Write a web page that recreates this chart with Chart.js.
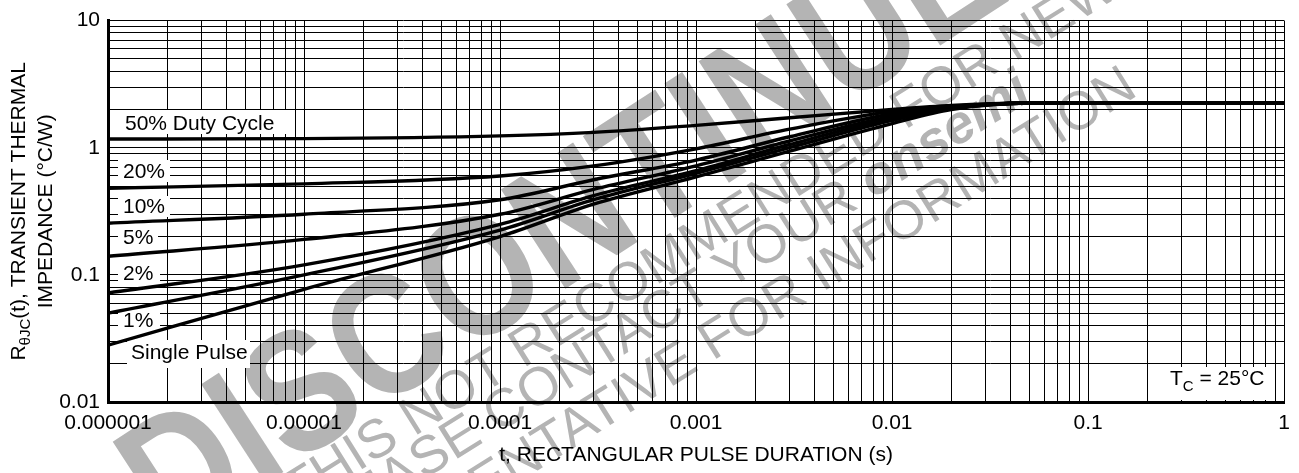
<!DOCTYPE html>
<html>
<head>
<meta charset="utf-8">
<script src="https://cdn.jsdelivr.net/npm/chart.js@4.4.0/dist/chart.umd.min.js"></script>
<style>
  html, body { margin: 0; padding: 0; background: #fff; }
  #wrap { width: 1299px; height: 473px; }
</style>
</head>
<body>
<div id="wrap"><canvas id="chart" width="1299" height="473"></canvas></div>
<script>
/* ---- data ---- */
const durations = [1e-6, 1e-5, 1e-4, 3e-4, 1e-3, 3e-3, 1e-2, 2e-2, 5e-2, 1e-1, 1];

const duty50 = [1.17, 1.18, 1.24, 1.32, 1.50, 1.72, 2.00, 2.15, 2.25, 2.26, 2.26];
const duty20 = [0.48, 0.52, 0.60, 0.72, 0.98, 1.40, 1.93, 2.12, 2.25, 2.26, 2.26];
const duty10 = [0.255, 0.30, 0.39, 0.56, 0.80, 1.22, 1.85, 2.10, 2.25, 2.26, 2.26];
const duty5  = [0.14, 0.19, 0.30, 0.47, 0.72, 1.13, 1.77, 2.08, 2.25, 2.26, 2.26];
const duty2  = [0.072, 0.12, 0.25, 0.42, 0.66, 1.06, 1.70, 2.06, 2.25, 2.26, 2.26];
const duty1  = [0.05, 0.10, 0.225, 0.39, 0.63, 1.00, 1.64, 2.04, 2.25, 2.26, 2.26];
const single = [0.028, 0.077, 0.20, 0.36, 0.59, 0.94, 1.55, 2.00, 2.25, 2.26, 2.26];

const seriesNames = ['50% Duty Cycle', '20%', '10%', '5%', '2%', '1%', 'Single Pulse'];
const seriesValues = [duty50, duty20, duty10, duty5, duty2, duty1, single];

const xTickValues = [1e-6, 1e-5, 1e-4, 1e-3, 1e-2, 1e-1, 1];
const xTickLabels = ['0.000001', '0.00001', '0.0001', '0.001', '0.01', '0.1', '1'];
const yTickValues = [0.01, 0.1, 1, 10];
const yTickLabels = ['0.01', '0.1', '1', '10'];

const xTitle = 't, RECTANGULAR PULSE DURATION (s)';
const yTitleMain = ['R', '\u03B8JC', '(t), TRANSIENT THERMAL'];
const yTitleSecond = 'IMPEDANCE (\u00B0C/W)';
const caseTemp = ['T', 'C', ' = 25\u00B0C'];

/* ---- look ---- */
const FONT = "'Liberation Sans', Arial, Helvetica, sans-serif";
const WM_GRAY = '#b4b4b4';

// where the curve names sit (pixel offsets from chart area left / absolute baseline)
const curveLabelSpots = [
  { dx: 17, base: 130, box: [12, 110, 170, 24] },
  { dx: 15, base: 178, box: [10, 160, 52, 22] },
  { dx: 15, base: 213, box: [10, 196, 52, 21] },
  { dx: 15, base: 244, box: [10, 229, 40, 20] },
  { dx: 15, base: 280, box: [10, 264, 42, 21] },
  { dx: 15, base: 327, box: [10, 309, 42, 21] },
  { dx: 23, base: 359, box: [19, 340, 123, 28] },
];

/* log grid: 1..9 per decade */
function logGrid(minExp, maxExp) {
  const out = [];
  for (let e = minExp; e < maxExp; e++) {
    for (let m = 1; m <= 9; m++) out.push(parseFloat((m * Math.pow(10, e)).toPrecision(10)));
  }
  out.push(Math.pow(10, maxExp));
  return out;
}

function labelFor(value, values, labels) {
  for (let i = 0; i < values.length; i++) {
    if (Math.abs(Math.log10(value) - Math.log10(values[i])) < 1e-6) return labels[i];
  }
  return '';
}

/* rotated text, positioned so that `anchorSub` starts at (ax, ay) */
function rotText(ctx, text, anchorSub, ax, ay, deg, font, sx) {
  ctx.save();
  ctx.font = font;
  const idx = text.indexOf(anchorSub);
  const pre = ctx.measureText(text.slice(0, idx)).width;
  ctx.translate(ax, ay);
  ctx.rotate(deg * Math.PI / 180);
  ctx.scale(sx || 1, 1);
  ctx.textAlign = 'left';
  ctx.textBaseline = 'alphabetic';
  ctx.fillText(text, -pre, 0);
  ctx.restore();
}

const decorPlugin = {
  id: 'decor',
  beforeDraw(chart) {
    const ctx = chart.ctx;
    ctx.save();
    ctx.fillStyle = '#fff';
    ctx.fillRect(0, 0, chart.width, chart.height);
    // watermark, behind the grid
    ctx.fillStyle = WM_GRAY;
    rotText(ctx, 'DISCONTINUED', 'ONTINUED', 462, 356, -33, 'bold 172px ' + FONT, 0.85);
    rotText(ctx, 'THIS NOT RECOMMENDED FOR NEW DESIGN', 'FOR', 905, 130, -32, '54px ' + FONT);
    // line with the bold company name
    ctx.save();
    ctx.translate(873, 199);
    ctx.rotate(-32 * Math.PI / 180);
    ctx.font = '54px ' + FONT;
    const pre = 'PLEASE CONTACT YOUR ';
    ctx.fillText(pre, -ctx.measureText(pre).width, 0);
    ctx.font = 'italic bold 54px ' + FONT;
    ctx.fillText('onsemi', 0, 0);
    ctx.restore();
    rotText(ctx, 'REPRESENTATIVE FOR INFORMATION', 'FORMATION', 868, 264, -32, '54px ' + FONT);
    ctx.restore();
  },
  beforeDatasetsDraw(chart) {
    const ctx = chart.ctx;
    const a = chart.chartArea;
    ctx.save();
    ctx.font = '21px ' + FONT;
    ctx.textBaseline = 'alphabetic';
    seriesNames.forEach((name, i) => {
      const s = curveLabelSpots[i];
      ctx.fillStyle = '#fff';
      ctx.fillRect(a.left + s.box[0], s.box[1], s.box[2], s.box[3]);
      ctx.fillStyle = '#000';
      ctx.fillText(name, a.left + s.dx, s.base);
    });
    // case temperature note
    ctx.fillStyle = '#fff';
    ctx.fillRect(1163, 367, 104, 33);
    ctx.fillStyle = '#000';
    let x = 1170;
    ctx.font = '21px ' + FONT;
    ctx.fillText(caseTemp[0], x, 385);
    x += ctx.measureText(caseTemp[0]).width;
    ctx.font = '15px ' + FONT;
    ctx.fillText(caseTemp[1], x, 391);
    x += ctx.measureText(caseTemp[1]).width;
    ctx.font = '21px ' + FONT;
    ctx.fillText(caseTemp[2], x, 385);
    ctx.restore();
  },
  afterDraw(chart) {
    const ctx = chart.ctx;
    const a = chart.chartArea;
    ctx.save();
    ctx.fillStyle = '#000';
    ctx.font = '21px ' + FONT;
    ctx.textAlign = 'center';
    ctx.textBaseline = 'alphabetic';
    ctx.fillText(xTitle, (a.left + a.right) / 2, 461);

    // y title, rotated
    const cy = (a.top + a.bottom) / 2;
    ctx.textAlign = 'left';
    const fonts = ['21px ' + FONT, '15px ' + FONT, '21px ' + FONT];
    const shifts = [0, 5, 0];
    let widths = yTitleMain.map((t, i) => { ctx.font = fonts[i]; return ctx.measureText(t).width; });
    let total = widths.reduce((p, c) => p + c, 0);
    ctx.save();
    ctx.translate(25, cy);
    ctx.rotate(-Math.PI / 2);
    let px = -total / 2;
    yTitleMain.forEach((t, i) => {
      ctx.font = fonts[i];
      ctx.fillText(t, px, shifts[i]);
      px += widths[i];
    });
    ctx.restore();
    ctx.save();
    ctx.translate(52, cy);
    ctx.rotate(-Math.PI / 2);
    ctx.font = '21px ' + FONT;
    ctx.textAlign = 'center';
    ctx.fillText(yTitleSecond, 0, 0);
    ctx.restore();
    ctx.restore();
  }
};

const datasets = seriesNames.map((name, i) => ({
  label: name,
  data: durations.map((t, j) => ({ x: t, y: seriesValues[i][j] })),
  borderColor: '#000',
  backgroundColor: '#000',
  borderWidth: 3.4,
  pointRadius: 0,
  fill: false,
  cubicInterpolationMode: 'monotone',
}));

new Chart(document.getElementById('chart'), {
  type: 'line',
  data: { datasets },
  options: {
    responsive: false,
    animation: false,
    devicePixelRatio: 1,
    layout: { padding: { top: 17, right: 10, left: 0, bottom: 0 } },
    plugins: { legend: { display: false }, tooltip: { enabled: false } },
    scales: {
      x: {
        type: 'logarithmic',
        min: 1e-6,
        max: 1,
        afterBuildTicks: s => { s.ticks = logGrid(-6, 0).map(v => ({ value: v })); },
        afterFit: s => { s.height = 71; },
        grid: { color: '#000', lineWidth: 1, drawTicks: false },
        border: { color: '#000', width: 3 },
        ticks: {
          autoSkip: false, maxRotation: 0, padding: 9, color: '#000',
          font: { family: FONT, size: 21 },
          callback: v => labelFor(v, xTickValues, xTickLabels),
        },
      },
      y: {
        type: 'logarithmic',
        min: 0.01,
        max: 10,
        afterBuildTicks: s => { s.ticks = logGrid(-2, 1).map(v => ({ value: v })); },
        afterFit: s => { s.width = 108; },
        grid: { color: '#000', lineWidth: 1, drawTicks: false },
        border: { color: '#000', width: 3 },
        ticks: {
          autoSkip: false, padding: 8, color: '#000',
          font: { family: FONT, size: 21 },
          callback: v => labelFor(v, yTickValues, yTickLabels),
        },
      },
    },
  },
  plugins: [decorPlugin],
});
</script>
</body>
</html>
